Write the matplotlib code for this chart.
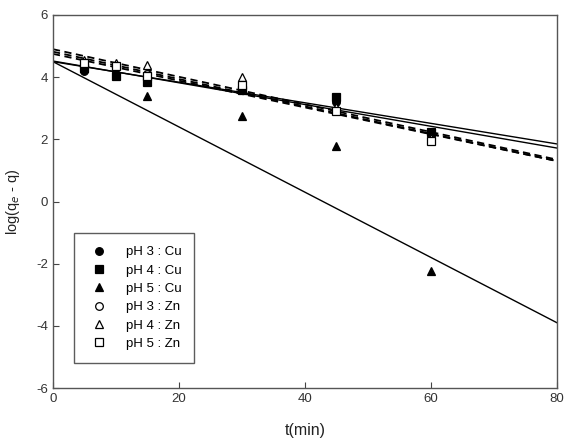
import numpy as np
import matplotlib.pyplot as plt

plt.rcParams['font.family'] = ['Liberation Sans', 'DejaVu Sans']
plt.rcParams['axes.unicode_minus'] = False

t = [5, 10, 15, 30, 45, 60]

labels = ['pH 3 : Cu', 'pH 4 : Cu', 'pH 5 : Cu', 'pH 3 : Zn', 'pH 4 : Zn', 'pH 5 : Zn']
cu3 = [4.2, 4.1, 3.9, 3.65, 3.2, 2.2]
cu4 = [4.3, 4.05, 3.85, 3.6, 3.35, 2.25]
cu5 = [4.3, 4.15, 3.4, 2.75, 1.8, -2.25]
zn3 = [4.45, 4.35, 4.1, 3.8, 2.95, 2.0]
zn4 = [4.55, 4.45, 4.4, 4.0, 3.05, 2.05]
zn5 = [4.45, 4.35, 4.05, 3.75, 2.9, 1.95]

# fitted lines: intercept, slope
intercepts = [4.5, 4.52, 4.5, 4.9, 4.82, 4.75]
slopes = [-0.0331, -0.035, -0.105, -0.0444, -0.044, -0.0431]

series = [cu3, cu4, cu5, zn3, zn4, zn5]
markers = ['o', 's', '^', 'o', '^', 's']
faces = ['black', 'black', 'black', 'white', 'white', 'white']
styles = ['-', '-', '-', (0, (4, 2.5)), (0, (4, 2.5)), (0, (4, 2.5))]
widths = [1.0, 1.0, 1.0, 1.3, 1.3, 1.3]

fig = plt.figure(figsize=(5.69, 4.41), dpi=100)
ax = fig.add_axes([0.093, 0.12, 0.886, 0.846])

xl = np.array([0, 80])
for i in range(6):
    ax.plot(xl, intercepts[i] + slopes[i] * xl, color='black', lw=widths[i], ls=styles[i], zorder=2)

for i in range(6):
    ax.plot(t, series[i], ls='none', marker=markers[i], ms=5.5, mfc=faces[i],
            mec='black', mew=0.9, label=labels[i], zorder=3)

ax.set_xlim(0, 80)
ax.set_ylim(-6, 6)
ax.set_xticks([0, 20, 40, 60, 80])
ax.set_yticks([-6, -4, -2, 0, 2, 4, 6])
ax.tick_params(direction='in', length=4, width=0.8, labelsize=9.5, color='#444',
               labelcolor='#333')
for s in ax.spines.values():
    s.set_color('#555')
    s.set_linewidth(1.0)

ax.set_xlabel('t(min)', fontsize=11.5, labelpad=13, color='#222')
ax.set_ylabel('log(q$_e$ - q)', fontsize=10.5, labelpad=10, color='#222')

leg = ax.legend(loc='lower left', bbox_to_anchor=(0.042, 0.067), fontsize=9.5,
                frameon=True, fancybox=False, edgecolor='#333', borderpad=1.0,
                handletextpad=1.1, handlelength=1.8, labelspacing=0.46,
                borderaxespad=0)
leg.get_frame().set_linewidth(1.0)

fig.savefig('out.png', dpi=100)
